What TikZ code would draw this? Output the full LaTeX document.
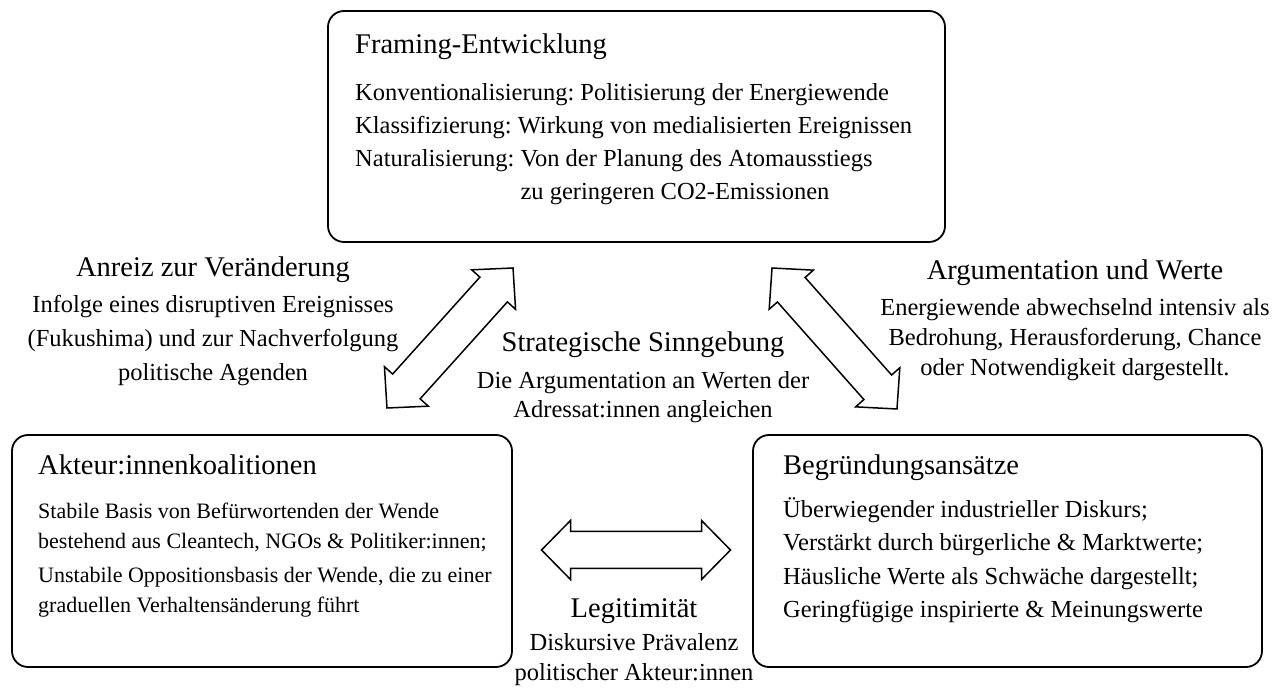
\documentclass[tikz,border=0pt]{standalone}
\usepackage{fontspec}
\setmainfont{Liberation Serif}
\begin{document}
\frenchspacing
\begin{tikzpicture}[x=1pt,y=1pt,
  box/.style={draw, line width=1.8pt, rounded corners=16pt, inner sep=0pt},
  hd/.style={font=\fontsize{28.5}{34}\selectfont, inner sep=0pt, anchor=base west},
  hdc/.style={font=\fontsize{28.5}{34}\selectfont, inner sep=0pt, anchor=base},
  bd/.style={font=\fontsize{24.5}{30}\selectfont, inner sep=0pt, anchor=base west},
  bdc/.style={font=\fontsize{24.5}{30}\selectfont, inner sep=0pt, anchor=base},
  bds/.style={font=\fontsize{22}{28}\selectfont, inner sep=0pt, anchor=base west},
  barrow/.style={draw, line width=1.5pt, fill=white, line join=miter}]
\useasboundingbox (0,0) rectangle (1285,688);

% boxes
\node[box, minimum width=617pt, minimum height=231pt] (top) at (636.5,561.5) {};
\node[box, minimum width=500pt, minimum height=232pt] (left) at (262,137) {};
\node[box, minimum width=509pt, minimum height=232pt] (right) at (1007.5,137) {};

% top box text
\node[hd] (topH) at (355,634) {Framing-Entwicklung};
\node[bd] (top1) at (355,587) {Konventionalisierung: Politisierung der Energiewende};
\node[bd] (top2) at (355,554) {Klassifizierung: Wirkung von medialisierten Ereignissen};
\node[bd] (top3) at (355,521) {Naturalisierung: Von der Planung des Atomausstiegs};
\node[bd] (top4) at (355,488) {\phantom{Naturalisierung: }zu geringeren CO2-Emissionen};

% left box text
\node[hd] (leftH) at (38,213) {Akteur:innenkoalitionen};
\node[bds] (left1) at (38,169) {Stabile Basis von Befürwortenden der Wende};
\node[bds] (left2) at (38,139) {bestehend aus Cleantech, NGOs \& Politiker:innen;};
\node[bds] (left3) at (38,105) {Unstabile Oppositionsbasis der Wende, die zu einer};
\node[bds] (left4) at (38,75) {graduellen Verhaltensänderung führt};

% right box text
\node[hd] (rightH) at (783,213) {Begründungsansätze};
\node[bd] (right1) at (783,170) {Überwiegender industrieller Diskurs;};
\node[bd] (right2) at (783,137) {Verstärkt durch bürgerliche \& Marktwerte;};
\node[bd] (right3) at (783,103) {Häusliche Werte als Schwäche dargestellt;};
\node[bd] (right4) at (783,70) {Geringfügige inspirierte \& Meinungswerte};

% labels
\node[hdc] (anreiz) at (213,411) {Anreiz zur Veränderung};
\node[bdc] (anreiz1) at (213,375) {Infolge eines disruptiven Ereignisses};
\node[bdc] (anreiz2) at (213,341) {(Fukushima) und zur Nachverfolgung};
\node[bdc] (anreiz3) at (213,307) {politische Agenden};

\node[hdc] (argu) at (1075,408) {Argumentation und Werte};
\node[bdc] (argu1) at (1075,372) {Energiewende abwechselnd intensiv als};
\node[bdc] (argu2) at (1075,342) {Bedrohung, Herausforderung, Chance};
\node[bdc] (argu3) at (1075,312) {oder Notwendigkeit dargestellt.};

\node[hdc] (strat) at (643,336) {Strategische Sinngebung};
\node[bdc] (strat1) at (643,299) {Die Argumentation an Werten der};
\node[bdc] (strat2) at (643,270) {Adressat:innen angleichen};

\node[hdc] (legit) at (634,70) {Legitimität};
\node[bdc] (legit1) at (634,37) {Diskursive Prävalenz};
\node[bdc] (legit2) at (634,8) {politischer Akteur:innen};

% block arrows
\begin{scope}[shift={(450,350)}, rotate=48]
  \draw[barrow] (94.2,0) -- (65.2,29.5) -- (65.2,18.5) -- (-65.2,18.5) -- (-65.2,29.5) -- (-94.2,0) -- (-65.2,-29.5) -- (-65.2,-18.5) -- (65.2,-18.5) -- (65.2,-29.5) -- cycle;
\end{scope}
\begin{scope}[shift={(834.5,349.5)}, rotate=-48.45]
  \draw[barrow] (94.2,0) -- (65.2,29.5) -- (65.2,18.5) -- (-65.2,18.5) -- (-65.2,29.5) -- (-94.2,0) -- (-65.2,-29.5) -- (-65.2,-18.5) -- (65.2,-18.5) -- (65.2,-29.5) -- cycle;
\end{scope}
\begin{scope}[shift={(636,138)}]
  \draw[barrow] (94.5,0) -- (65.5,29.5) -- (65.5,18.5) -- (-65.5,18.5) -- (-65.5,29.5) -- (-94.5,0) -- (-65.5,-29.5) -- (-65.5,-18.5) -- (65.5,-18.5) -- (65.5,-29.5) -- cycle;
\end{scope}
\end{tikzpicture}
\end{document}
